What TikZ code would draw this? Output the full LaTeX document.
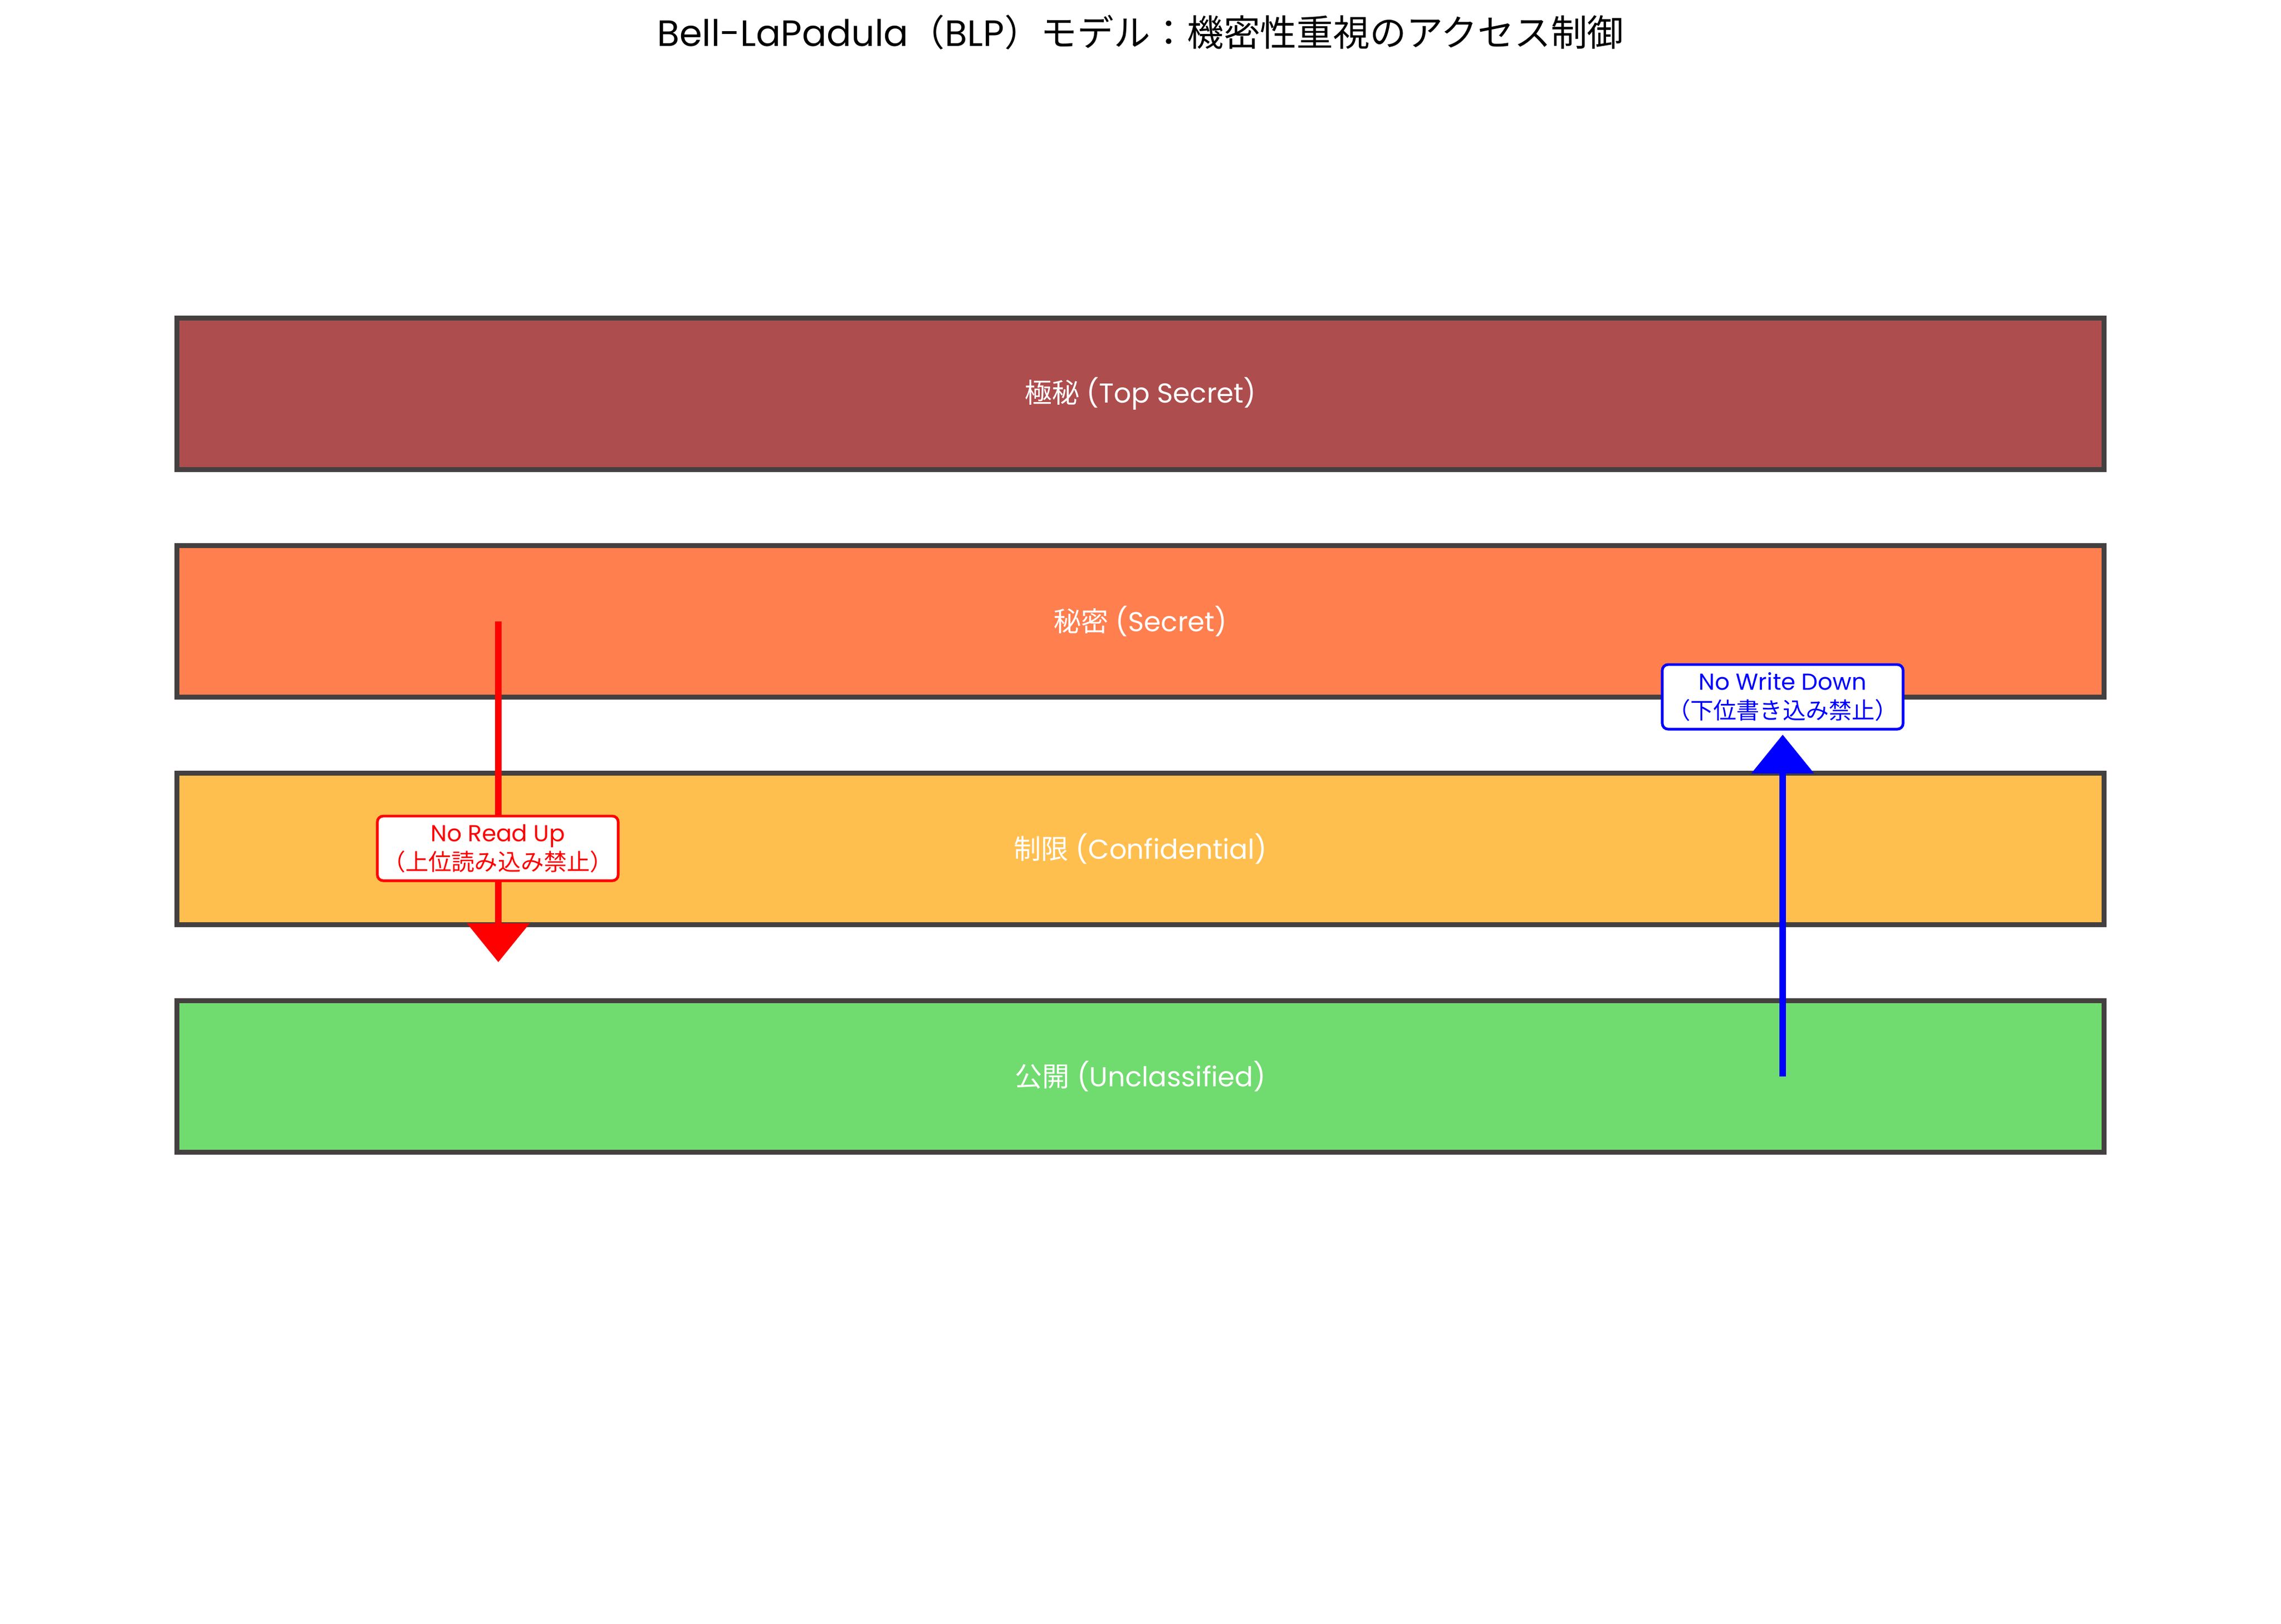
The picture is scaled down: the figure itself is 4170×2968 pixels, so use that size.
\documentclass[tikz,border=0pt]{standalone}
\usepackage{fontspec}
\setmainfont{Poppins}
\newfontfamily\jp{Noto Sans CJK JP}
\usetikzlibrary{arrows.meta}

\definecolor{topsecret}{HTML}{AD4D4D}
\definecolor{secret}{HTML}{FF7F4F}
\definecolor{confidential}{HTML}{FFBF4F}
\definecolor{unclassified}{HTML}{70DB6F}
\definecolor{edgegray}{HTML}{454040}

\tikzset{
	level/.style={draw=edgegray, line width=2.56pt, minimum width=35.21cm, minimum height=2.77cm, inner sep=0pt, text=white, font=\fontsize{14.2}{17}\selectfont},
	rulebox/.style={draw, fill=white, line width=1.4pt, rounded corners=3pt, align=center, minimum width=4.4cm, minimum height=1.18cm, inner sep=0pt, font=\fontsize{12}{15}\selectfont},
	flow/.style={line width=3.4pt, -{Triangle[width=1.12cm,length=0.71cm]}}
}

\begin{document}
\begin{tikzpicture}[x=0.01cm, y=-0.01cm]
		\useasboundingbox (0,0) rectangle (4170,2968);

		\node[font=\fontsize{19}{23}\selectfont] (title) at (2085,59) {Bell-LaPadula{\jp （}BLP{\jp ）モデル：機密性重視のアクセス制御}};

		% security levels
		\node[level, fill=topsecret] (ts) at (2085,720) {{\jp 極秘} (Top Secret)};
		\node[level, fill=secret] (s) at (2085,1136) {{\jp 秘密} (Secret)};
		\node[level, fill=confidential] (c) at (2085,1552) {{\jp 制限} (Confidential)};
		\node[level, fill=unclassified] (u) at (2085,1968) {{\jp 公開} (Unclassified)};

		\coordinate (rd1) at (911,1136);
		\coordinate (rd2) at (911,1759);
		\coordinate (wu1) at (3259,1968);
		\coordinate (wu2) at (3259,1343);

		\draw[flow, red] (rd1) -- (rd2);
		\draw[flow, blue] (wu1) -- (wu2);

		\node[rulebox, draw=red, text=red] (nru) at (910,1551) {No Read Up\\{\jp （上位読み込み禁止）}};
		\node[rulebox, draw=blue, text=blue] (nwd) at (3259,1274) {No Write Down\\{\jp （下位書き込み禁止）}};

	\end{tikzpicture}
\end{document}
